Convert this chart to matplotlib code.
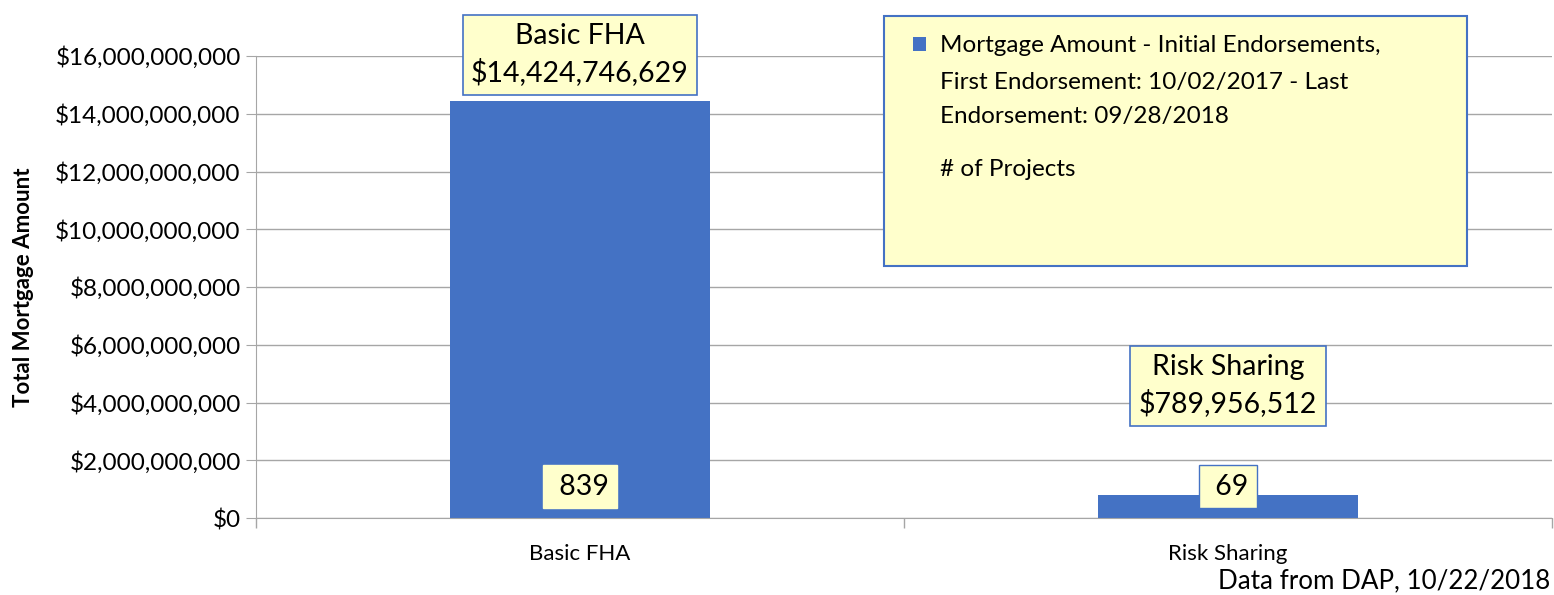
import matplotlib
matplotlib.use('Agg')
import matplotlib.pyplot as plt
from matplotlib.patches import Rectangle
from matplotlib.ticker import FuncFormatter

plt.rcParams['font.family'] = ['Lato', 'DejaVu Sans']

categories = ["Basic FHA", "Risk Sharing"]
amounts = [14424746629, 789956512]
projects = [839, 69]
yticks = [0, 2e9, 4e9, 6e9, 8e9, 10e9, 12e9, 14e9, 16e9]
legend_lines = ["Mortgage Amount - Initial Endorsements,",
                "First Endorsement: 10/02/2017 - Last",
                "Endorsement: 09/28/2018"]
legend_second = "# of Projects"

bar_color = "#4472C4"
box_color = "#FFFFCC"
grid_color = "#A6A6A6"

W, H = 1554, 595
fig = plt.figure(figsize=(W / 100, H / 100), dpi=100)
ax = fig.add_axes([256 / W, 1 - 518 / H, 1296 / W, (518 - 56) / H])

x = list(range(len(categories)))
ax.bar(x, amounts, width=0.4, color=bar_color, zorder=2)
ax.set_xlim(-0.5, 1.5)
ax.set_ylim(0, 16e9)
ax.set_yticks(yticks)
ax.yaxis.set_major_formatter(FuncFormatter(lambda v, p: "${:,.0f}".format(v)))
ax.set_xticks(x)
ax.set_xticklabels(categories, fontsize=16)
ax.set_xticks([-0.5, 0.5, 1.5], minor=True)
ax.tick_params(axis='x', which='major', length=0, pad=19)
ax.tick_params(axis='x', which='minor', length=7, color=grid_color, width=1)
ax.tick_params(axis='y', length=7, color=grid_color, labelsize=17.5, pad=4)
ax.grid(axis='y', color=grid_color, linewidth=1, zorder=0)
for s in ['top', 'right']:
    ax.spines[s].set_visible(False)
ax.spines['left'].set_color(grid_color)
ax.spines['bottom'].set_color(grid_color)
ax.set_ylabel("Total Mortgage Amount", fontsize=16, fontweight='bold', labelpad=15)

# value labels above bars
offsets = [11, 56]
for i, (c, a) in enumerate(zip(categories, amounts)):
    ax.annotate("{}\n${:,.0f}".format(c, a), xy=(i, a), xytext=(0, offsets[i]),
                textcoords='offset points', ha='center', va='bottom', fontsize=20.5,
                linespacing=1.4, zorder=5,
                bbox=dict(boxstyle='square,pad=0.3', fc=box_color, ec=bar_color, lw=1.2))

# number of projects near the base
for i, n in enumerate(projects):
    ax.annotate(" " + str(n), xy=(i, 0), xytext=(0, 13), textcoords='offset points',
                ha='center', va='bottom', fontsize=20.5, zorder=5,
                bbox=dict(boxstyle='square,pad=0.3', fc=box_color,
                          ec=bar_color if i == 1 else box_color, lw=1))

# legend box
fig.patches.append(Rectangle((884 / W, 1 - 266 / H), 583 / W, 250 / H,
                             transform=fig.transFigure, fc=box_color, ec=bar_color,
                             lw=1.5, zorder=10))
fig.patches.append(Rectangle((913 / W, 1 - 51 / H), 13 / W, 14 / H,
                             transform=fig.transFigure, fc=bar_color, ec='none', zorder=11))
for line, ypix in zip(legend_lines, [43, 80, 115]):
    fig.text(940 / W, 1 - ypix / H, line, ha='left', va='center_baseline',
             fontsize=17.5, zorder=12)
fig.text(940 / W, 1 - 167 / H, legend_second, ha='left', va='center_baseline',
         fontsize=17.5, zorder=12)

fig.text(1550 / W, 1 - 593 / H, "Data from DAP, 10/22/2018", ha='right', va='bottom', fontsize=18.7)

fig.savefig("out.png", dpi=100)
